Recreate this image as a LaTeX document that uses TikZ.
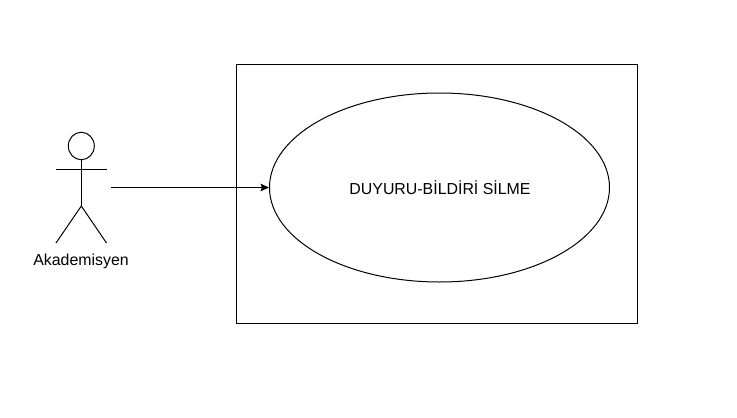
\documentclass[tikz,border=0pt]{standalone}
\usepackage{fontspec}
\setmainfont{Liberation Sans}
\usetikzlibrary{shapes.geometric,arrows.meta}
\begin{document}
\begin{tikzpicture}[x=1pt,y=-1pt,line width=1pt,
  lbl/.style={inner sep=0pt,anchor=base,font=\fontsize{15.9pt}{18pt}\selectfont,text=black}]
\useasboundingbox (0,0) rectangle (737,418);
\fill[white] (0,0) rectangle (737,418);
\node[draw,minimum width=401pt,minimum height=259pt,inner sep=0pt] (sys) at (437,194) {};
\node[draw,ellipse,minimum width=340pt,minimum height=189pt,inner sep=0pt] (uc) at (439.5,187.5) {};
\node[lbl] (uct) at (440,194) {DUYURU-BİLDİRİ SİLME};
\node[draw,ellipse,minimum width=26pt,minimum height=27.5pt,inner sep=0pt] (head) at (81.3,146) {};
\coordinate (hip) at (81.3,206);
\coordinate (armL) at (56,169);
\coordinate (armR) at (106.5,169);
\coordinate (legL) at (56,243);
\coordinate (legR) at (106.5,243);
\draw (head.south) -- (hip);
\draw (armL) -- (armR);
\draw (legL) -- (hip) -- (legR);
\node[lbl] (actor) at (81,265) {Akademisyen};
\coordinate (start) at (111,187.5);
\draw[-{Stealth[length=8.5pt,width=7.5pt,inset=1.5pt]}] (start) -- (uc.west);
\end{tikzpicture}
\end{document}
